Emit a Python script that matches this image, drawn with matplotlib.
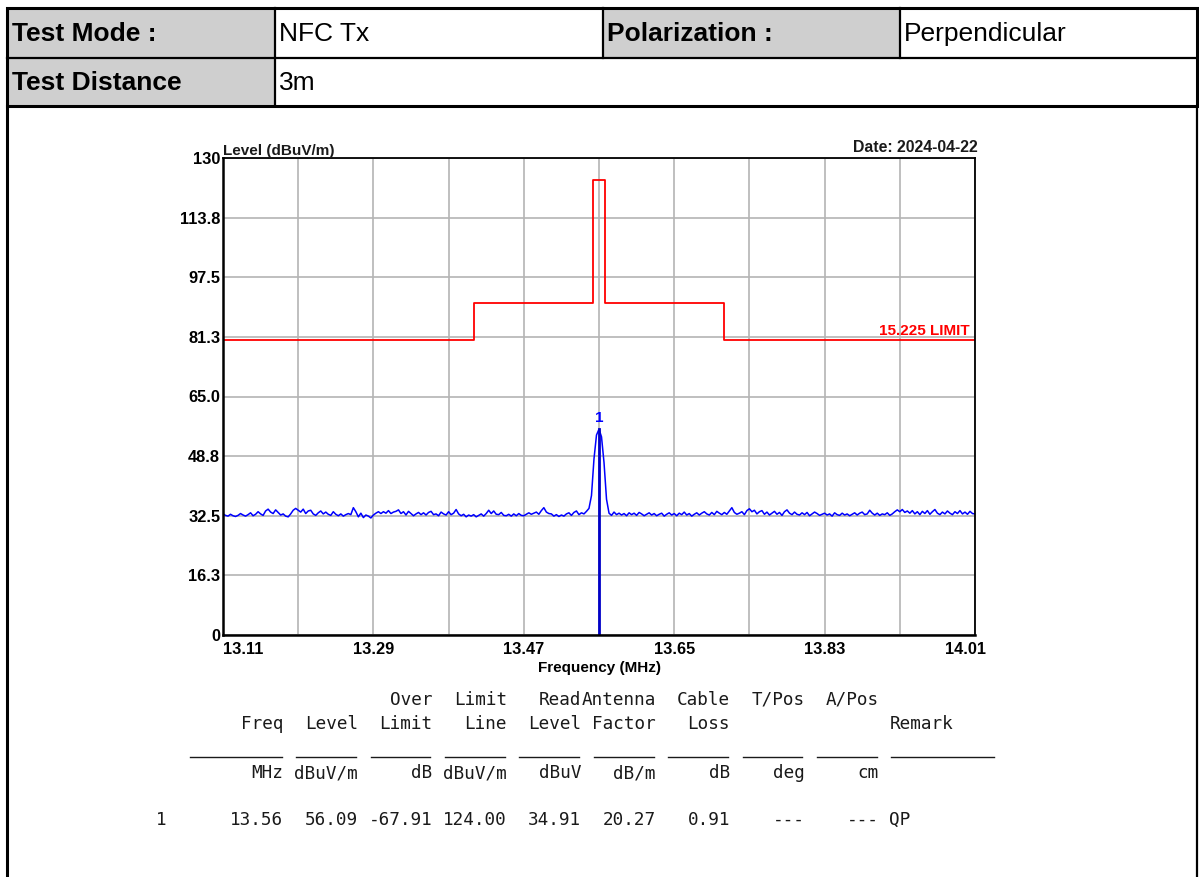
import numpy as np
import matplotlib
matplotlib.use("Agg")
import matplotlib.pyplot as plt
from matplotlib.patches import Rectangle
from matplotlib.transforms import ScaledTranslation

# ---- header info ----
header_row1 = ["Test Mode :", "NFC Tx", "Polarization :", "Perpendicular"]
header_row2 = ["Test Distance", "3m"]

# ---- sweep (blue trace) ----
f_start = 13.11
f_stop = 14.01
levels = [
    33.0, 32.6, 32.4, 32.9, 32.5, 32.3, 32.6, 33.1, 32.7, 32.4,
    32.8, 33.3, 32.5, 32.9, 33.6, 33.0, 32.6, 33.8, 34.3, 33.5,
    33.1, 34.1, 33.4, 32.7, 33.0, 32.4, 32.2, 33.0, 34.0, 34.5,
    34.0, 33.5, 34.3, 33.1, 33.8, 34.0, 33.0, 32.6, 33.3, 33.8,
    33.0, 33.5, 32.9, 32.6, 33.6, 32.9, 32.5, 33.0, 32.4, 32.8,
    33.1, 32.8, 34.7, 33.6, 32.2, 33.2, 32.0, 32.7, 32.4, 31.9,
    32.7, 33.2, 33.6, 33.1, 33.6, 33.2, 33.9, 33.1, 33.5, 33.7,
    34.1, 33.1, 33.6, 32.7, 33.7, 33.1, 32.5, 33.0, 33.4, 32.8,
    33.3, 32.7, 33.4, 33.7, 32.8, 33.0, 32.5, 33.5, 33.0, 32.7,
    33.6, 32.8, 33.2, 34.2, 33.0, 32.5, 32.9, 32.2, 32.7, 32.4,
    32.8, 32.2, 32.6, 33.0, 32.4, 33.1, 34.0, 33.1, 33.8, 32.9,
    32.8, 33.4, 32.6, 32.5, 32.9, 32.4, 33.0, 32.5, 33.1, 32.6,
    32.5, 32.9, 33.3, 32.9, 33.2, 33.5, 32.9, 33.9, 34.7, 33.5,
    33.1, 33.0, 32.4, 32.8, 32.3, 32.7, 32.4, 33.0, 33.3, 32.6,
    33.4, 33.8, 32.8, 33.3, 33.0, 33.7, 34.5, 38.0, 48.0, 54.5,
    56.09, 54.0, 47.0, 37.0, 33.2, 32.6, 33.5, 32.8, 33.2, 32.7,
    33.1, 32.5, 33.3, 32.8, 33.2, 32.6, 33.4, 33.0, 32.5, 32.9,
    33.3, 32.7, 33.1, 32.5, 32.9, 33.2, 32.4, 32.9, 33.3, 32.7,
    33.1, 32.5, 33.2, 32.8, 33.5, 32.7, 33.1, 32.4, 32.9, 33.3,
    32.7, 33.2, 33.6, 33.0, 32.7, 33.4, 32.8, 33.7, 33.2, 32.8,
    33.4, 32.9, 33.8, 34.7, 33.4, 32.9, 33.2, 33.6, 32.8, 33.9,
    34.4, 33.6, 34.0, 33.0, 33.6, 33.9, 32.9, 33.5, 32.7, 33.2,
    33.7, 32.9, 33.4, 32.6, 33.6, 34.1, 33.2, 32.8, 33.5, 32.9,
    32.7, 33.3, 32.8, 33.4, 32.5, 33.0, 33.5, 33.1, 32.6, 32.9,
    33.2, 32.7, 33.0, 32.4, 33.3, 32.8, 32.6, 33.2, 32.7, 33.0,
    32.5, 32.9, 33.3, 32.7, 33.2, 33.5, 32.8, 33.0, 34.0, 33.2,
    32.7, 33.2, 32.6, 33.0, 32.8, 33.3, 32.6, 33.0, 33.6, 34.1,
    33.6, 34.2, 33.4, 33.8, 33.2, 33.9, 33.0, 33.6, 32.8, 33.7,
    33.1, 33.9, 32.9, 33.6, 34.2, 33.2, 32.8, 33.5, 33.0, 33.8,
    33.2, 32.8, 33.6, 33.1, 33.9, 33.0, 33.5, 32.9, 33.7, 33.1,
    33.0,
]
freqs = np.linspace(f_start, f_stop, len(levels))

# ---- 15.225 limit ----
limit_edges = [13.11, 13.41, 13.553, 13.567, 13.71, 14.01]
limit_levels = [80.5, 90.5, 124.0, 90.5, 80.5, 80.5]

# ---- marker ----
marker_freq = 13.56
marker_level = 56.09

# ---- axes ticks ----
x_ticks = [13.11, 13.20, 13.29, 13.38, 13.47, 13.56, 13.65, 13.74, 13.83, 13.92, 14.01]
x_labels = ["13.11", "", "13.29", "", "13.47", "", "13.65", "", "13.83", "", "14.01"]
y_ticks = [0, 16.25, 32.5, 48.75, 65.0, 81.25, 97.5, 113.75, 130]
y_labels = ["0", "16.3", "32.5", "48.8", "65.0", "81.3", "97.5", "113.8", "130"]

# ---- result table ----
col_head1 = ["", "", "Over", "Limit", "Read", "Antenna", "Cable", "T/Pos", "A/Pos", ""]
col_head2 = ["Freq", "Level", "Limit", "Line", "Level", "Factor", "Loss", "", "", "Remark"]
col_units = ["MHz", "dBuV/m", "dB", "dBuV/m", "dBuV", "dB/m", "dB", "deg", "cm", ""]
row_values = ["13.56", "56.09", "-67.91", "124.00", "34.91", "20.27", "0.91", "---", "---", "QP"]
row_no = "1"

W, H = 1199, 877
fig = plt.figure(figsize=(W / 100, H / 100), dpi=100)

# overlay in pixel coords for the frame + table
bg = fig.add_axes([0, 0, 1, 1])
bg.set_xlim(0, W)
bg.set_ylim(H, 0)
bg.axis("off")

gray = "#cfcfcf"
for (x0, y0, x1, y1) in [(7, 8, 275, 58), (603, 8, 900, 58), (7, 58, 275, 106)]:
    bg.add_patch(Rectangle((x0, y0), x1 - x0, y1 - y0, facecolor=gray, edgecolor="none"))
bg.add_patch(Rectangle((7, 8), 1190, 98, facecolor="none", edgecolor="black", lw=2.2))
bg.plot([7, 1197], [58, 58], color="black", lw=1.6)
bg.plot([275, 275], [8, 106], color="black", lw=1.6)
bg.plot([603, 603], [8, 58], color="black", lw=1.6)
bg.plot([900, 900], [8, 58], color="black", lw=1.6)
bg.plot([7, 7], [106, 877], color="black", lw=2.2)
bg.plot([1197, 1197], [106, 877], color="black", lw=1.6)

hfont = "Liberation Sans"
hs = 19
bg.text(12, 34, header_row1[0], fontsize=hs, fontweight="bold", family=hfont, va="center")
bg.text(279, 34, header_row1[1], fontsize=hs, family=hfont, va="center")
bg.text(607, 34, header_row1[2], fontsize=hs, fontweight="bold", family=hfont, va="center")
bg.text(904, 34, header_row1[3], fontsize=hs, family=hfont, va="center")
bg.text(12, 83, header_row2[0], fontsize=hs, fontweight="bold", family=hfont, va="center")
bg.text(279, 83, header_row2[1], fontsize=hs, family=hfont, va="center")

# table columns (char grid, monospace)
cw = 10.63
x0 = 156
col_spans = [(3, 11), (13, 18), (20, 25), (27, 32), (34, 39), (41, 46),
             (48, 53), (55, 60), (62, 67), (69, 78)]
mono = dict(family="DejaVu Sans Mono", fontsize=12.7, color="#1a1a1a")
for i, (c0, c1) in enumerate(col_spans):
    right = x0 + (c1 + 1) * cw
    left = x0 + c0 * cw
    if i == len(col_spans) - 1:
        bg.text(left, 724, col_head2[i], ha="left", va="center", **mono)
        bg.text(left, 820, row_values[i], ha="left", va="center", **mono)
    else:
        bg.text(right, 700, col_head1[i], ha="right", va="center", **mono)
        bg.text(right, 724, col_head2[i], ha="right", va="center", **mono)
        bg.text(right, 773, col_units[i], ha="right", va="center", **mono)
        bg.text(right, 820, row_values[i], ha="right", va="center", **mono)
    bg.plot([left + 2, right - 2], [757, 757], color="#1a1a1a", lw=1.0)
bg.text(x0, 820, row_no, ha="left", va="center", **mono)

# ---- spectrum plot ----
ax = fig.add_axes([223 / W, 1 - 635 / H, (975 - 223) / W, (635 - 158) / H])
ax.set_xlim(f_start, f_stop)
ax.set_ylim(0, 130)
ax.set_xticks(x_ticks)
ax.set_xticklabels(x_labels)
ax.set_yticks(y_ticks)
ax.set_yticklabels(y_labels)
ax.grid(True, color="#b4b4b4", lw=1.2)
ax.set_axisbelow(True)
ax.tick_params(length=0, labelsize=11.8)
ax.tick_params(axis="x", pad=5)
ax.tick_params(axis="y", pad=2)
for lab in ax.get_xticklabels() + ax.get_yticklabels():
    lab.set_fontweight("bold")
    lab.set_family(hfont)
xl = ax.get_xticklabels()
xl[0].set_ha("left")
xl[-1].set_ha("right")
xl[-1].set_transform(xl[-1].get_transform() + ScaledTranslation(11 / 100, 0, fig.dpi_scale_trans))
for s in ax.spines.values():
    s.set_color("black")
    s.set_linewidth(1.3)
ax.spines["left"].set_linewidth(1.8)
ax.spines["bottom"].set_linewidth(1.8)

ax.step(limit_edges, limit_levels, where="post", color="#ff0000", lw=1.3)
ax.plot(freqs, levels, color="#0000ff", lw=1.1)
ax.plot([marker_freq, marker_freq], [0, marker_level], color="#0000c8", lw=2.0)
ax.annotate("1", (marker_freq, marker_level), xytext=(0, 3), textcoords="offset points",
            ha="center", va="bottom", color="#0000ff", fontsize=11, fontweight="bold", family=hfont)
ax.annotate("15.225 LIMIT", (f_stop, limit_levels[-1]), xytext=(-4, 1), textcoords="offset points",
            ha="right", va="bottom", color="#ff0000", fontsize=11, fontweight="bold", family=hfont)

ax.text(0, 1, "Level (dBuV/m)", transform=ax.transAxes, ha="left", va="bottom",
        fontsize=11, fontweight="bold", family=hfont, color="#1a1a1a")
ax.text(1.003, 1.006, "Date: 2024-04-22", transform=ax.transAxes, ha="right", va="bottom",
        fontsize=11.4, fontweight="bold", family=hfont, color="#1a1a1a")
ax.set_xlabel("Frequency (MHz)", fontsize=11, fontweight="bold", family=hfont, labelpad=3)

fig.savefig("out.png", dpi=100)
